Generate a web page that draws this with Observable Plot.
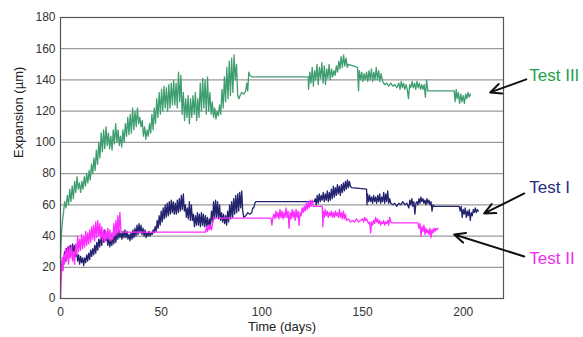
<!DOCTYPE html>
<html>
<head>
<meta charset="utf-8">
<script src="https://cdn.jsdelivr.net/npm/d3@7"></script>
<script src="https://cdn.jsdelivr.net/npm/@observablehq/plot@0.6"></script>
<style>
  html, body { margin: 0; padding: 0; background: #fff; }
  svg { font-family: "Liberation Sans", Arial, sans-serif; }
</style>
</head>
<body>
<div id="chart"></div>
<script>
// [day, expansion µm]
const test3 = [[0,26],[0.5,42],[1,50],[1.5,55],[2,62],[2.7,58],[3.4,66],[4,60],[4.6,70],[5.2,62],[5.8,72],[6.4,64],[7,75],[7.6,68],[8.2,78],[8.8,70],[9.4,74],[10,68],[10.6,75],[11.2,70],[11.8,78],[12.4,72],[13,80],[13.6,74],[14.2,82],[14.8,76],[15.4,86],[16,80],[16.6,90],[17.2,82],[17.8,95],[18.4,86],[19,100],[19.6,90],[20.2,106],[20.8,94],[21.4,108],[22,96],[22.6,110],[23.2,98],[23.8,106],[24.4,96],[25,104],[25.6,95],[26.2,108],[26.8,99],[27.4,112],[28,100],[28.6,108],[29.2,98],[29.8,104],[30.4,97],[31,108],[31.6,100],[32.2,112],[32.8,104],[33.4,116],[34,105],[34.6,118],[35.2,106],[35.8,122],[36.4,108],[37,120],[37.6,110],[38.2,122],[38.8,112],[39.4,116],[40,110],[40.6,114],[41.2,104],[41.8,110],[42.4,102],[43,108],[43.6,104],[44.2,112],[44.8,106],[45.4,118],[46,108],[46.6,122],[47.2,112],[47.8,128],[48.4,116],[49,132],[49.6,118],[50.2,134],[50.8,120],[51.4,136],[52,122],[52.6,135],[53.2,120],[53.8,137],[54.4,122],[55,138],[55.6,124],[56.2,140],[56.8,124],[57.4,138],[58,122],[58.6,145],[59.2,126],[59.8,143],[60.4,118],[61,132],[61.6,114],[62.2,128],[62.8,116],[63.4,130],[64,112],[64.6,128],[65.2,116],[65.8,130],[66.4,118],[67,132],[67.6,114],[68.2,128],[68.8,116],[69.4,138],[70,120],[70.6,141],[71.2,122],[71.8,140],[72.4,118],[73,142],[73.6,120],[74.2,132],[74.8,118],[75.4,126],[76,116],[76.6,122],[77.2,115],[77.8,120],[78.4,117],[79,124],[79.6,118],[80.2,134],[80.8,122],[81.4,142],[82,126],[82.6,148],[83.2,128],[83.8,152],[84.4,130],[85,154],[85.6,132],[86.2,156],[86.8,140],[87.4,150],[88,130],[88.6,128],[89.2,130],[90,132],[91,131],[92,133],[92.5,138],[93,133],[93.5,145],[94,143],[95,142],[123,142],[123.2,134],[123.8,145],[124.4,138],[125,148],[125.6,136],[126.2,146],[126.8,140],[127.4,150],[128,137],[128.6,148],[129.2,141],[129.8,151],[130.4,138],[131,149],[131.6,137],[132.2,147],[132.8,141],[133.4,150],[134,140],[134.6,147],[135.2,142],[135.8,146],[136.4,143],[137,149],[137.6,145],[138.2,152],[138.8,147],[139.4,155],[140,148],[140.6,156],[141.2,149],[141.8,154],[142.4,148],[143,150],[147.5,148],[148,133],[148.4,146],[149,140],[149.6,145],[150.2,139],[150.8,144],[151.4,140],[152,145],[152.6,139],[153.2,146],[153.8,140],[154.4,147],[155,139],[155.6,145],[156.2,140],[156.8,148],[157.4,140],[158,146],[158.6,139],[159.2,144],[160,139],[161,137],[162,138],[163,136],[164,138],[165,136],[166,137],[167,135],[168,138],[168.6,134],[169.2,139],[169.8,135],[170.4,138],[171,134],[171.6,137],[172.2,134],[172.8,128],[173.4,137],[174,135],[174.6,139],[175.2,135],[175.8,138],[176.4,134],[177,139],[177.6,135],[178.2,138],[178.8,134],[179.4,137],[180,134],[180.6,137],[181.2,129],[181.8,140],[182.4,133],[195.5,133],[196,126],[196.5,134],[197,128],[197.6,132],[198.2,125],[198.8,131],[199.4,126],[200,130],[200.6,125],[201.2,131],[201.8,128],[202.4,132],[203,129],[203.6,131]];

const test1 = [[0,12],[0.5,20],[1,26],[1.5,22],[2,30],[2.5,24],[3,32],[3.5,26],[4,33],[4.5,27],[5,34],[5.5,28],[6,35],[6.5,29],[7,34],[7.5,27],[8,30],[8.5,24],[9,28],[9.5,22],[10,27],[10.5,23],[11,26],[11.5,21],[12,26],[12.5,23],[13,28],[13.5,24],[14,29],[14.5,25],[15,31],[15.5,27],[16,32],[16.5,28],[17,34],[17.5,29],[18,36],[18.5,31],[19,38],[19.5,33],[20,40],[20.5,34],[21,42],[21.5,36],[22,44],[22.5,37],[23,41],[23.5,34],[24,39],[24.5,33],[25,38],[25.5,34],[26,40],[26.5,35],[27,42],[27.5,36],[28,43],[28.5,38],[29,44],[29.5,39],[30,42],[30.5,38],[31,43],[31.5,39],[32,44],[32.5,39],[33,43],[33.5,38],[34,41],[34.5,37],[35,42],[35.5,38],[36,44],[36.5,39],[37,45],[37.5,40],[38,47],[38.5,41],[39,48],[39.5,42],[40,47],[40.5,41],[41,45],[41.5,40],[42,44],[42.5,39],[43,42],[43.5,40],[44,43],[44.5,40],[45,42],[45.5,41],[46,44],[46.5,42],[47,46],[47.5,43],[48,50],[48.5,45],[49,53],[49.5,47],[50,56],[50.5,49],[51,58],[51.5,51],[52,60],[52.5,52],[53,61],[53.5,53],[54,62],[54.5,54],[55,63],[55.5,55],[56,62],[56.5,54],[57,61],[57.5,54],[58,63],[58.5,55],[59,64],[59.5,56],[60,66],[60.5,57],[61,67],[61.5,56],[62,60],[62.5,52],[63,58],[63.5,51],[64,62],[64.5,50],[65,60],[65.5,50],[66,54],[66.5,46],[67,53],[67.5,47],[68,55],[68.5,47],[69,54],[69.5,46],[70,55],[70.5,47],[71,54],[71.5,46],[72,53],[72.5,46],[73,52],[73.5,45],[74,51],[74.5,47],[75,56],[75.5,49],[76,62],[76.5,51],[77,63],[77.5,52],[78,62],[78.5,51],[79,60],[79.5,50],[80,55],[80.5,49],[81,54],[81.5,48],[82,53],[82.5,47],[83,56],[83.5,49],[84,60],[84.5,51],[85,62],[85.5,52],[86,64],[86.5,54],[87,66],[87.5,55],[88,67],[88.5,56],[89,68],[89.5,58],[90,69],[90.5,56],[91,52],[92,53],[93,55],[94,54],[95,55],[95.5,58],[96,58],[96.5,61],[97,62],[126,62],[126.5,64],[127,60],[127.5,66],[128,61],[128.5,67],[129,62],[129.5,66],[130,63],[130.5,68],[131,62],[131.5,67],[132,63],[132.5,69],[133,62],[133.5,68],[134,63],[134.5,70],[135,64],[135.5,72],[136,65],[136.5,71],[137,66],[137.5,73],[138,67],[138.5,72],[139,66],[139.5,73],[140,68],[140.5,74],[141,69],[141.5,75],[142,70],[142.5,76],[143,71],[143.5,75],[144,72],[144.5,71],[152,70],[152.2,60],[152.5,67],[153,62],[153.5,66],[154,62],[154.5,65],[155,61],[155.5,66],[156,62],[156.5,65],[157,61],[157.5,66],[158,62],[158.5,67],[159,61],[159.5,65],[160,62],[160.5,68],[161,61],[161.5,67],[162,62],[162.5,69],[163,61],[163.5,64],[164,61],[165,60],[166,61],[167,59],[168,61],[169,60],[170,62],[171,60],[172,61],[173,58],[173.5,63],[174,60],[174.5,64],[175,59],[175.5,62],[176,54],[176.5,61],[177,62],[177.5,60],[178,64],[178.5,61],[179,65],[179.5,62],[180,64],[180.5,61],[181,63],[181.5,60],[182,64],[182.5,61],[183,63],[183.5,60],[184,62],[184.5,56],[185,60],[185.5,59],[198,59],[198.5,56],[199,59],[199.5,52],[200,57],[200.5,54],[201,58],[201.5,52],[202,56],[202.5,53],[203,57],[203.5,50],[204,55],[204.5,53],[205,57],[205.5,55],[206,58],[206.5,55],[207,57],[207.5,56]];

const test2 = [[0,0],[0.3,10],[0.7,20],[1,26],[1.3,18],[1.7,28],[2,22],[2.5,32],[3,24],[3.5,33],[4,22],[4.5,34],[5,26],[5.5,33],[6,24],[6.5,30],[7,22],[7.5,35],[8,28],[8.5,40],[9,30],[9.5,38],[10,31],[10.5,41],[11,32],[11.5,40],[12,33],[12.5,43],[13,34],[13.5,42],[14,35],[14.5,44],[15,36],[15.5,46],[16,38],[16.5,47],[17,37],[17.5,49],[18,39],[18.5,50],[19,40],[19.5,48],[20,38],[20.5,46],[21,37],[21.5,44],[22,36],[22.5,43],[23,38],[23.5,45],[24,38],[24.5,44],[25,37],[25.5,42],[26,38],[26.5,48],[27,40],[27.5,50],[28,41],[28.5,53],[29,42],[29.5,55],[30,43],[30.5,42.5],[72,42.5],[72.5,46],[73,43],[73.5,47],[74,44],[74.5,47],[75,44],[75.5,48],[76,51.5],[104.5,51.5],[105,47],[105.5,52],[106,54],[106.5,51],[107,56],[107.5,52],[108,55],[108.5,51],[109,57],[109.5,52],[110,56],[110.5,51],[111,55],[111.5,52],[112,58],[112.5,52],[113,56],[113.5,45],[114,55],[114.5,51],[115,57],[115.5,52],[116,56],[116.5,50],[117,57],[117.5,52],[118,56],[118.5,47],[119,55],[119.5,53],[120,58],[120.5,55],[121,59],[121.5,56],[122,61],[122.5,57],[123,62],[123.5,58],[124,63],[124.5,59],[125,63],[125.5,59],[130,59],[130.3,46],[130.6,56],[131,52],[131.5,57],[132,53],[132.5,56],[133,52],[133.5,55],[134,53],[134.5,56],[135,52],[135.5,55],[136,52],[136.5,56],[137,53],[137.5,55],[138,52],[138.5,57],[139,52],[139.5,55],[140,51],[140.5,56],[141,51],[141.5,54],[142,50],[143,51],[144,49],[145,50],[146,49],[147,51],[148,49],[149,50],[150,51],[150.5,49],[151,52],[151.5,50],[152,51],[153,48],[153.5,49],[154,42],[154.5,49],[155,47],[155.5,50],[156,48],[156.5,52],[157,49],[157.5,51],[158,48],[158.5,50],[159,47],[159.5,49],[160,48],[160.5,50],[161,47],[161.5,49],[162,48],[162.5,50],[163,47],[163.5,52],[164,49],[164.5,48.5],[177.5,48.5],[178,45],[178.5,48],[179,40],[179.5,46],[180,43],[180.5,47],[181,41],[181.5,45],[182,42],[182.5,44],[183,41],[183.5,45],[184,39],[184.5,44],[185,42],[185.5,45],[186,43],[186.5,45],[187,44],[187.5,45]];

const yTicks = [0, 20, 40, 60, 80, 100, 120, 140, 160, 180];
const xTicks = [0, 50, 100, 150, 200];
const seriesNames = ["Test III", "Test I", "Test II"];
const lineColors = ["#3f9e70", "#23236f", "#ff2cff"];
const textColors = ["#1fa04a", "#2b2b80", "#f02cf0"];
// label anchor [day, value] and arrow [tailDay, tailVal, headDay, headVal]
const labelPos = [[232.8, 143], [232.8, 71], [232.8, 25.6]];
const arrowPos = [[231.3, 140.4, 213.4, 132], [230.3, 67.3, 210.4, 54.5], [230.3, 26.9, 195.5, 41]];

const labels = seriesNames.map((name, i) => ({name, x: labelPos[i][0], y: labelPos[i][1], color: textColors[i]}));
const arrows = arrowPos.map(a => ({x1: a[0], y1: a[1], x2: a[2], y2: a[3]}));

const chart = Plot.plot({
  width: 583,
  height: 337,
  marginLeft: 60,
  marginRight: 80,
  marginTop: 17,
  marginBottom: 39,
  style: {fontFamily: "Liberation Sans, Arial, sans-serif", background: "#fff"},
  x: {domain: [0, 220], ticks: xTicks, tickSize: 0, tickPadding: 9, label: null},
  y: {domain: [0, 180], ticks: yTicks, tickSize: 0, tickPadding: 5, label: null},
  marks: [
    Plot.ruleY(yTicks.filter(v => v > 0 && v < 180), {stroke: "#9a9a9a", strokeWidth: 1.3}),
    Plot.line(test3, {x: d => d[0], y: d => d[1], stroke: lineColors[0], strokeWidth: 1.3}),
    Plot.line(test1, {x: d => d[0], y: d => d[1], stroke: lineColors[1], strokeWidth: 1.3}),
    Plot.line(test2, {x: d => d[0], y: d => d[1], stroke: lineColors[2], strokeWidth: 1.3}),
    Plot.frame({stroke: "#555", strokeWidth: 1.2}),
    Plot.arrow(arrows, {x1: "x1", y1: "y1", x2: "x2", y2: "y2", stroke: "#111", strokeWidth: 2, headLength: 9, headAngle: 50, clip: false}),
    Plot.text(labels, {x: "x", y: "y", text: "name", fill: "color", fontSize: 17, textAnchor: "start", clip: false}),
    Plot.text(["Expansion (µm)"], {frameAnchor: "left", dx: -42, rotate: -90, fontSize: 13, fill: "#222"}),
    Plot.text(["Time (days)"], {frameAnchor: "bottom", dy: 32, fontSize: 13, fill: "#222"})
  ]
});
chart.querySelectorAll('[aria-label="x-axis tick label"], [aria-label="y-axis tick label"]').forEach(g => {
  g.setAttribute("font-size", "12");
  g.setAttribute("fill", "#333");
});
document.getElementById("chart").appendChild(chart);
</script>
</body>
</html>
